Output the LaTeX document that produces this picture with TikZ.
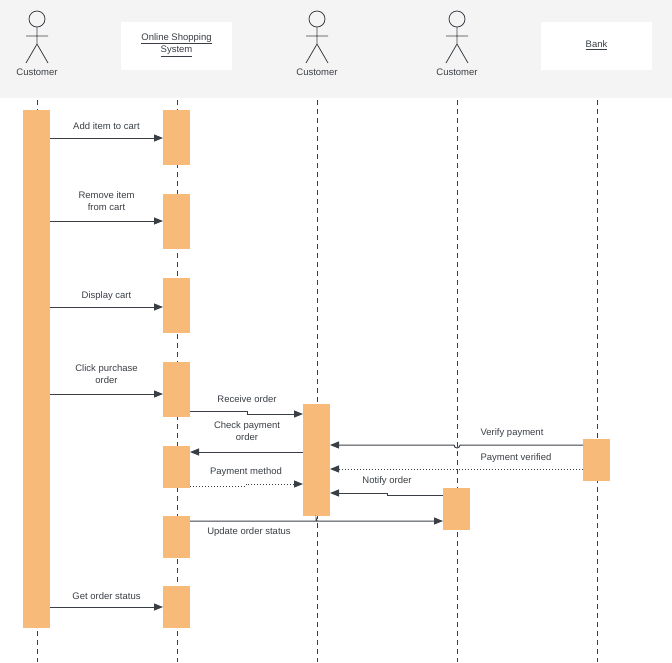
\documentclass[tikz,border=0pt]{standalone}
\usepackage{fontspec}
\setmainfont{Liberation Sans}
\usetikzlibrary{arrows.meta}
\definecolor{bar}{HTML}{F8BA78}
\definecolor{ink}{HTML}{3A3F45}
\begin{document}
\begin{tikzpicture}[x=1pt,y=-1pt,font=\fontsize{9.5}{11.5}\selectfont,
  actbar/.style={fill=bar,draw=none},
  life/.style={draw=ink,dash pattern=on 5pt off 4pt,line width=0.8pt},
  msg/.style={draw=ink,line width=1pt,-{Triangle[length=9pt,width=7pt]}},
  ret/.style={msg,dotted},
  lbl/.style={text=ink,align=center,inner sep=0},
  actor/.style={draw=ink,line width=0.8pt}]
\useasboundingbox (0,0) rectangle (672,662);
\fill[gray!9] (0,0) rectangle (672,98);
\fill[white] (121,22) rectangle (232,70);
\fill[white] (541,22) rectangle (652,70);
\node[lbl] (oss) at (176.5,45) {\underline{Online Shopping}\\[1pt]\underline{System}};
\node[lbl] (bank) at (596.5,45) {\underline{Bank}};
\foreach \x/\n in {37/a,317/b,457/c}{
  \draw[actor] (\x,19) circle (8);
  \draw[actor] (\x,27) -- (\x,44) (\x-11,36) -- (\x+11,36) (\x-11,63) -- (\x,44) -- (\x+11,63);
  \node[lbl] (\n) at (\x,72) {Customer};
}
\foreach \x in {37,177,317,457,597} \draw[life] (\x,100) -- (\x,662);
% bars
\fill[bar] (23,110) rectangle (50,628);
\foreach \a/\b in {110/165,194/249,278/333,362/417,446/488,516/558,586/628}
  \fill[bar] (163,\a) rectangle (190,\b);
\fill[bar] (303,404) rectangle (330,516);
\fill[bar] (443,488) rectangle (470,530);
\fill[bar] (583,439) rectangle (610,481);
% coordinates
\coordinate (c1) at (50,138); \coordinate (o1) at (163,138);
\coordinate (c2) at (50,221); \coordinate (o2) at (163,221);
\coordinate (c3) at (50,307); \coordinate (o3) at (163,307);
\coordinate (c4) at (50,394); \coordinate (o4) at (163,394);
\coordinate (c5) at (50,607); \coordinate (o5) at (163,607);
\draw[msg] (c1) -- (o1); \node[lbl] (l1) at (106.5,126) {Add item to cart};
\draw[msg] (c2) -- (o2); \node[lbl] (l2) at (106.5,201) {Remove item\\from cart};
\draw[msg] (c3) -- (o3); \node[lbl] (l3) at (106.5,296) {Display cart};
\draw[msg] (c4) -- (o4); \node[lbl] (l4) at (106.5,374) {Click purchase\\order};
\draw[msg] (c5) -- (o5); \node[lbl] (l5) at (106.5,596) {Get order status};
% middle messages
\coordinate (r0) at (190,411); \coordinate (r1) at (303,414);
\draw[msg] (r0) -- (247,411) -- (247,414) -- (r1);
\node[lbl] (l6) at (247,399) {Receive order};
\coordinate (k0) at (303,452); \coordinate (k1) at (190,452);
\draw[msg] (k0) -- (k1);
\node[lbl] (l7) at (247,431) {Check payment\\order};
\coordinate (p0) at (190,486); \coordinate (p1) at (303,484);
\draw[ret] (p0) -- (246,486) -- (246,484) -- (p1);
\node[lbl] (l8) at (246,472) {Payment method};
\coordinate (v0) at (583,445); \coordinate (v1) at (330,445);
\draw[msg] (v0) -- (460,445) arc (0:180:3) -- (v1);
\node[lbl] (l9) at (512,433) {Verify payment};
\coordinate (w0) at (583,469); \coordinate (w1) at (330,469);
\draw[ret] (w0) -- (w1);
\node[lbl] (l10) at (516,458) {Payment verified};
\coordinate (n0) at (443,495); \coordinate (n1) at (330,493);
\draw[msg] (n0) -- (387,495) -- (387,493) -- (n1);
\node[lbl] (l11) at (387,481) {Notify order};
\coordinate (u0) at (190,521); \coordinate (u1) at (443,521);
\draw[msg] (u0) -- (316,521) -- (316,518) -- (317,521) -- (u1);
\node[lbl] (l12) at (249,532) {Update order status};
\end{tikzpicture}
\end{document}
